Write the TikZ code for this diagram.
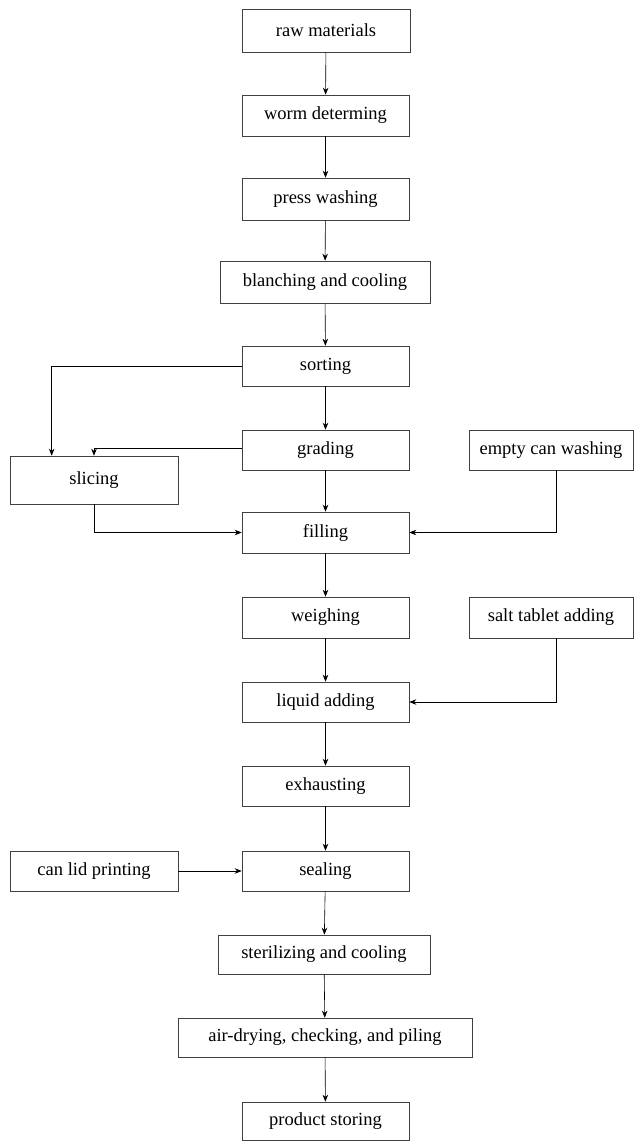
\documentclass[tikz,border=0pt]{standalone}
\usepackage{fontspec}
\setmainfont{Liberation Serif}
\usetikzlibrary{arrows.meta,calc}
\begin{document}
\begin{tikzpicture}[x=1pt,y=-1pt,
  box/.style={draw=black!75,line width=0.6pt,minimum width=167pt,minimum height=41pt,inner sep=0pt,font=\fontsize{18.5}{20}\selectfont},
  conn/.style={draw=black,line width=0.6pt,-{Stealth[length=7pt,width=5.5pt]}}]
\useasboundingbox (0,0) rectangle (638,1141);
\node[box,minimum width=168pt,minimum height=43pt] (raw) at (326,30.5) {raw materials};
\node[box] (worm) at (325.5,115.5) {worm determing};
\node[box,minimum height=42pt] (press) at (325.5,199) {press washing};
\node[box,minimum width=210pt,minimum height=42pt] (blanch) at (325,282) {blanching and cooling};
\node[box,minimum height=40pt] (sorting) at (325.5,366) {sorting};
\node[box,minimum height=40pt] (grading) at (325.5,450) {grading};
\node[box,minimum width=164pt,minimum height=40pt] (ecw) at (551,450) {empty can washing};
\node[box,minimum width=168pt,minimum height=48pt] (slicing) at (94,480) {slicing};
\node[box] (filling) at (325.5,532.5) {filling};
\node[box] (weighing) at (325.5,617.5) {weighing};
\node[box,minimum width=164pt] (salt) at (551,617.5) {salt tablet adding};
\node[box,minimum height=40pt] (liquid) at (325.5,702) {liquid adding};
\node[box,minimum height=40pt] (exhaust) at (325.5,786) {exhausting};
\node[box,minimum width=168pt,minimum height=40pt] (canlid) at (94,871) {can lid printing};
\node[box,minimum height=40pt] (sealing) at (325.5,871) {sealing};
\node[box,minimum width=212pt,minimum height=39pt] (steril) at (324,954.5) {sterilizing and cooling};
\node[box,minimum width=294pt,minimum height=39pt] (air) at (325,1037.5) {air-drying, checking, and piling};
\node[box,minimum height=38pt] (product) at (325.5,1121) {product storing};

\draw[conn] (raw) -- (worm);
\draw[conn] (worm) -- (press);
\draw[conn] (press) -- (blanch);
\draw[conn] (blanch) -- (sorting);
\draw[conn] (sorting) -- (grading);
\draw[conn] (grading) -- (filling);
\draw[conn] (filling) -- (weighing);
\draw[conn] (weighing) -- (liquid);
\draw[conn] (liquid) -- (exhaust);
\draw[conn] (exhaust) -- (sealing);
\draw[conn] (sealing) -- (steril);
\draw[conn] (steril) -- (air);
\draw[conn] (air) -- (product);

\coordinate (sl) at ($(slicing.north west)+(42,0)$);
\draw[conn] (sorting.west) -| (sl);
\draw[conn] ($(grading.west)+(0,-2)$) -| (slicing.north);
\draw[conn] (slicing.south) |- (filling.west);
\draw[conn] ($(ecw.south)+(5,0)$) |- (filling.east);
\draw[conn] ($(salt.south)+(5,0)$) |- (liquid.east);
\draw[conn] (canlid) -- (sealing);
\end{tikzpicture}
\end{document}
